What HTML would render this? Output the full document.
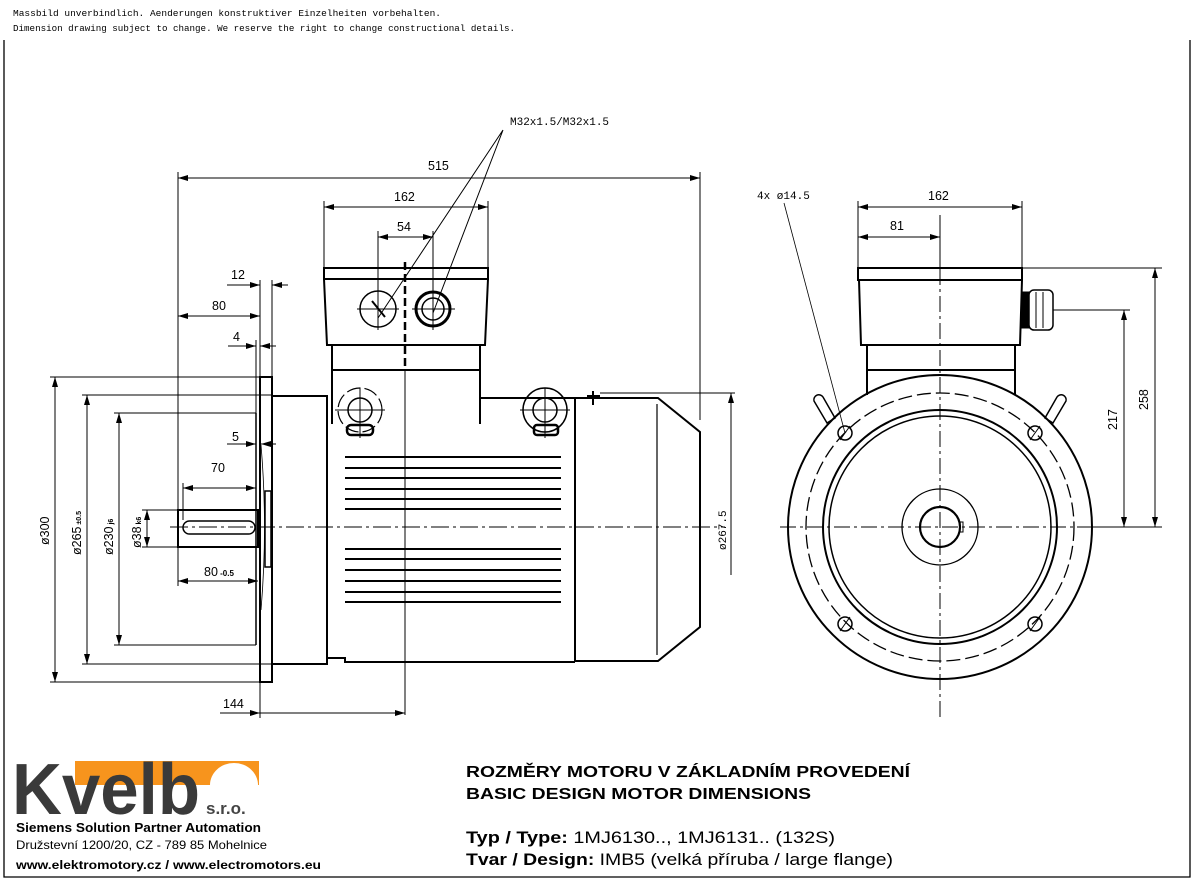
<!DOCTYPE html>
<html><head><meta charset="utf-8"><style>
html,body{margin:0;padding:0;background:#fff}
svg{display:block}
.t{font-family:"Liberation Sans",sans-serif;font-size:12.5px;fill:#000}
.m{font-family:"Liberation Mono",monospace;font-size:9.5px;fill:#000}
</style></head><body>
<svg width="1195" height="882" viewBox="0 0 1195 882" xmlns="http://www.w3.org/2000/svg">
<defs>
<marker id="a" viewBox="0 0 10 6" refX="10" refY="3" markerWidth="10" markerHeight="6" markerUnits="userSpaceOnUse" orient="auto-start-reverse"><path d="M0,0L10,3L0,6z" fill="#000"/></marker>
</defs>
<rect width="1195" height="882" fill="#fff"/>
<text class="m" x="13" y="16" textLength="428" lengthAdjust="spacingAndGlyphs">Massbild unverbindlich. Aenderungen konstruktiver Einzelheiten vorbehalten.</text>
<text class="m" x="13" y="31" textLength="502" lengthAdjust="spacingAndGlyphs">Dimension drawing subject to change. We reserve the right to change constructional details.</text>
<g stroke="#000" fill="none" stroke-width="1.3">
<path d="M4,40V877H1190V40"/>
</g>

<!-- LEFT VIEW -->
<g stroke="#000" fill="none" stroke-width="2">
<rect x="178" y="510" width="80" height="37"/>
<rect x="183" y="521" width="72" height="13" rx="6.5" stroke-width="1.5"/>
<rect x="260" y="377" width="12" height="305"/>
<path d="M256,413V645" stroke-width="1.5"/>
<rect x="265" y="491" width="6" height="76" stroke-width="1.5"/>
<path d="M272,396H327V664H272"/>
<path d="M327,658H345V662H575"/>
<path d="M332,345V424M480,345V424M480,398H575"/>
<path d="M332,370H480"/>
<rect x="324" y="268" width="164" height="11"/>
<path d="M324,279L327,345H485L488,279"/>
<path d="M575,398H658L700,432V627L658,661H575Z"/>
<path d="M657,404V655" stroke-width="1.2"/>
</g>
<g stroke="#000" stroke-width="2">
<path d="M345,457H561M345,468H561M345,478H561M345,489H561M345,499H561M345,509H561M345,549H561M345,559H561M345,570H561M345,581H561M345,592H561M345,602H561"/>
</g>
<g stroke="#000" fill="none">
<circle cx="378" cy="309" r="18" stroke-width="1.5"/>
<circle cx="433" cy="309" r="17" stroke-width="3"/>
<circle cx="433" cy="309" r="11" stroke-width="1.5"/>
<path d="M357,309H399M378,290V330M412,309H455M433,290V330" stroke-width="1"/>
<path d="M372,301L385,317" stroke-width="2"/>
<circle cx="360" cy="410" r="22" stroke-width="1.2" stroke-dasharray="14 4"/>
<circle cx="360" cy="410" r="12" stroke-width="1.5"/>
<circle cx="545" cy="410" r="22" stroke-width="1.5"/>
<circle cx="545" cy="410" r="12" stroke-width="1.5"/>
<path d="M335,410H385M360,388V438M520,410H570M545,388V438" stroke-width="1"/>
<rect x="347" y="425" width="26" height="10" rx="4" stroke-width="2.5"/>
<rect x="534" y="425" width="24" height="10" rx="3" stroke-width="2.5"/>
<path d="M587,396H600M593,391V405" stroke-width="2"/>
</g>
<g stroke="#000" fill="none" stroke-width="1">
<path d="M170,527H725" stroke-dasharray="18 4 3 4"/>
<path d="M405,262V370" stroke-dasharray="8 4" stroke-width="2.5"/>
<path d="M405,370V715"/>
<path d="M261,445Q268,527 261,610" stroke-width="0.8"/>
</g>
<g stroke="#000" fill="none" stroke-width="1">
<path d="M178,172V520M700,172V420"/>
<path d="M178,178H700" marker-start="url(#a)" marker-end="url(#a)"/>
<path d="M324,201V268M488,201V268"/>
<path d="M324,207H488" marker-start="url(#a)" marker-end="url(#a)"/>
<path d="M378,231V300M433,231V300"/>
<path d="M378,237H433" marker-start="url(#a)" marker-end="url(#a)"/>
<path d="M260,280V377M272,280V377"/>
<path d="M227,285H260" marker-end="url(#a)"/><path d="M288,285H272" marker-end="url(#a)"/>
<path d="M178,316H260" marker-start="url(#a)" marker-end="url(#a)"/>
<path d="M256,340V413"/>
<path d="M228,346H256" marker-end="url(#a)"/><path d="M276,346H260" marker-end="url(#a)"/>
<path d="M227,444H256" marker-end="url(#a)"/><path d="M276,444H261" marker-end="url(#a)"/>
<path d="M183,483V520"/>
<path d="M183,488H256" marker-start="url(#a)" marker-end="url(#a)"/>
<path d="M178,547V586"/>
<path d="M178,581H258" marker-start="url(#a)" marker-end="url(#a)"/>
<path d="M260,682V718"/>
<path d="M220,713H260" marker-end="url(#a)"/>
<path d="M260,713H405" marker-end="url(#a)"/>
<path d="M50,377H260M50,682H260M82,395H272M82,664H272M114,413H256M114,645H256M142,510H178M142,547H178"/>
<path d="M55,377V682" marker-start="url(#a)" marker-end="url(#a)"/>
<path d="M87,395V664" marker-start="url(#a)" marker-end="url(#a)"/>
<path d="M119,413V645" marker-start="url(#a)" marker-end="url(#a)"/>
<path d="M147,510V547" marker-start="url(#a)" marker-end="url(#a)"/>
<path d="M600,393H735"/>
<path d="M731,575V393" marker-end="url(#a)"/>
<path d="M503,130L378,318M503,130L433,313"/>
</g>
<g class="t">
<text x="428" y="170">515</text>
<text x="394" y="201">162</text>
<text x="397" y="231">54</text>
<text x="231" y="279">12</text>
<text x="212" y="310">80</text>
<text x="233" y="341">4</text>
<text x="232" y="441">5</text>
<text x="211" y="472">70</text>
<text x="204" y="576">80<tspan font-size="8" font-weight="bold"> -0.5</tspan></text>
<text x="223" y="708">144</text>
<text x="510" y="125" font-family="Liberation Mono,monospace" font-size="11">M32x1.5/M32x1.5</text>
<text transform="translate(49,545) rotate(-90)">ø300</text>
<text transform="translate(81,555) rotate(-90)">ø265<tspan font-size="7" font-weight="bold"> ±0.5</tspan></text>
<text transform="translate(113,555) rotate(-90)">ø230<tspan font-size="7" font-weight="bold"> j6</tspan></text>
<text transform="translate(141,548) rotate(-90)">ø38<tspan font-size="7" font-weight="bold"> k6</tspan></text>
<text transform="translate(726,550) rotate(-90)" font-family="Liberation Mono,monospace" font-size="11">ø267.5</text>
</g>

<!-- RIGHT VIEW -->
<g stroke="#000" fill="none" stroke-width="2">
<circle cx="940" cy="527" r="152"/>
<circle cx="940" cy="527" r="134" stroke-width="1.3" stroke-dasharray="14 5"/>
<circle cx="940" cy="527" r="117"/>
<circle cx="940" cy="527" r="111" stroke-width="1.5"/>
<circle cx="940" cy="527" r="38" stroke-width="1.3"/>
<circle cx="940" cy="527" r="20" stroke-width="2.2"/>
<rect x="960" y="522" width="3" height="10" stroke-width="1"/>
<rect x="858" y="268" width="164" height="12"/>
<path d="M859,280L861,345H1020L1022,280"/>
<path d="M867,345V395M1015,345V395M867,370H1015"/>
<rect x="1022" y="292" width="7" height="36" fill="#000" stroke-width="1"/>
<rect x="1029" y="290" width="24" height="40" rx="5" stroke-width="1.5"/>
<path d="M1036,292V328M1043,292V328" stroke-width="1"/>
<g stroke-width="1.5">
<circle cx="845" cy="433" r="7"/><circle cx="1035" cy="433" r="7"/>
<circle cx="845" cy="624" r="7"/><circle cx="1035" cy="624" r="7"/>
<path d="M840,440L850,426M1030,440L1040,426M840,631L850,617M1030,631L1040,617" stroke-width="1"/>
</g>
<g stroke-width="1.5">
<path d="M814,401A5,5 0 0 1 823,397L835,418L827,423Z"/>
<path d="M1066,401A5,5 0 0 0 1057,397L1045,418L1053,423Z"/>
</g>
</g>
<g stroke="#000" fill="none" stroke-width="1">
<path d="M940,215V720" stroke-dasharray="16 4 3 4"/>
<path d="M780,527H1095" stroke-dasharray="16 4 3 4"/>
<path d="M858,201V268M1022,201V268M940,231V268"/>
<path d="M858,207H1022" marker-start="url(#a)" marker-end="url(#a)"/>
<path d="M858,237H940" marker-start="url(#a)" marker-end="url(#a)"/>
<path d="M1022,268H1162M1053,310H1130M1092,527H1162"/>
<path d="M1124,310V527" marker-start="url(#a)" marker-end="url(#a)"/>
<path d="M1155,268V527" marker-start="url(#a)" marker-end="url(#a)"/>
<path d="M784,203L845,433" stroke-width="0.8"/>
</g>
<g class="t">
<text x="928" y="200">162</text>
<text x="890" y="230">81</text>
<text x="757" y="199" font-family="Liberation Mono,monospace" font-size="11">4x ø14.5</text>
<text transform="translate(1117,430) rotate(-90)">217</text>
<text transform="translate(1148,410) rotate(-90)">258</text>
</g>

<!-- LOGO -->
<g>
<rect x="75" y="761" width="184" height="24" fill="#f7941d"/>
<path d="M210,785A24,22 0 0 1 258,785" fill="#fff"/>
<text x="12" y="814" font-family="Liberation Sans,sans-serif" font-weight="bold" font-size="72" fill="#3a3a3a" textLength="188" lengthAdjust="spacingAndGlyphs">Kvelb</text>
<text x="206" y="814" font-family="Liberation Sans,sans-serif" font-weight="bold" font-size="17" fill="#444">s.r.o.</text>
</g>
<text x="16" y="832" font-family="Liberation Sans,sans-serif" font-weight="bold" font-size="12.5" textLength="245" lengthAdjust="spacingAndGlyphs">Siemens Solution Partner Automation</text>
<text x="16" y="849" font-family="Liberation Sans,sans-serif" font-size="12" textLength="251" lengthAdjust="spacingAndGlyphs">Družstevní 1200/20, CZ - 789 85 Mohelnice</text>
<text x="16" y="869" font-family="Liberation Sans,sans-serif" font-weight="bold" font-size="12" textLength="305" lengthAdjust="spacingAndGlyphs">www.elektromotory.cz / www.electromotors.eu</text>

<g font-family="Liberation Sans,sans-serif" font-size="16" fill="#000">
<text x="466" y="777" font-weight="bold" textLength="444" lengthAdjust="spacingAndGlyphs">ROZMĚRY MOTORU V ZÁKLADNÍM PROVEDENÍ</text>
<text x="466" y="799" font-weight="bold" textLength="345" lengthAdjust="spacingAndGlyphs">BASIC DESIGN MOTOR DIMENSIONS</text>
<text x="466" y="843" font-size="17" textLength="369" lengthAdjust="spacingAndGlyphs"><tspan font-weight="bold">Typ / Type: </tspan>1MJ6130.., 1MJ6131.. (132S)</text>
<text x="466" y="865" font-size="17" textLength="427" lengthAdjust="spacingAndGlyphs"><tspan font-weight="bold">Tvar / Design: </tspan>IMB5 (velká příruba / large flange)</text>
</g>
</svg>
</body></html>
